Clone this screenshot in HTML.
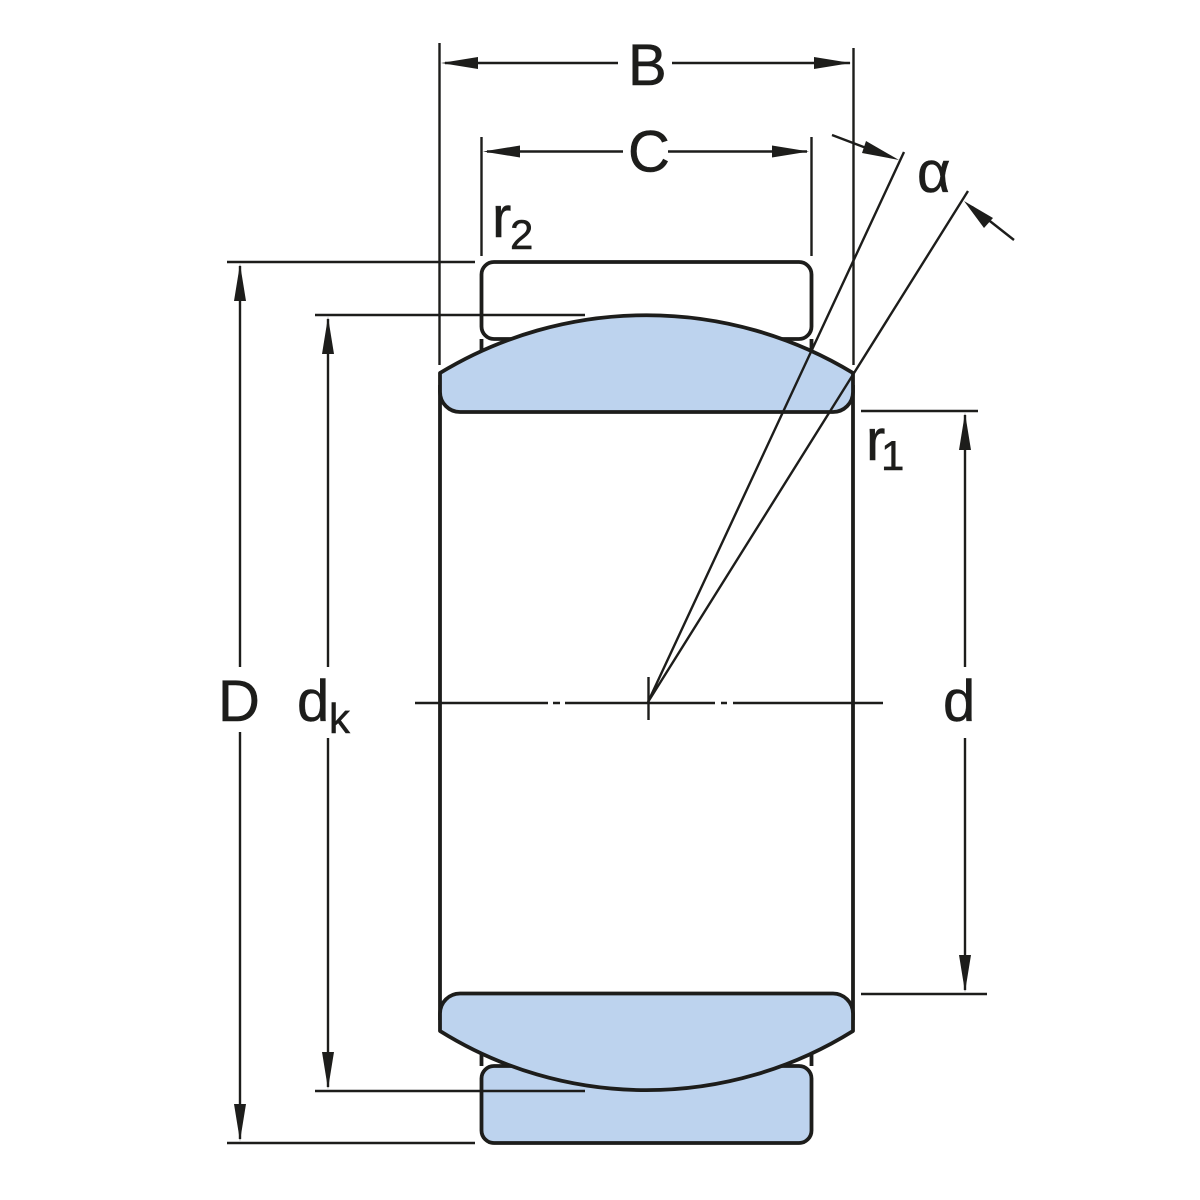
<!DOCTYPE html>
<html><head><meta charset="utf-8"><style>html,body{margin:0;padding:0;background:#fff}svg{display:block}text{font-family:"Liberation Sans",sans-serif;fill:#1d1d1b;stroke:#1d1d1b;stroke-width:.5}</style></head>
<body><svg width="1200" height="1200" viewBox="0 0 1200 1200" xmlns="http://www.w3.org/2000/svg">
<rect width="1200" height="1200" fill="#fff"/>
<g stroke="#1d1d1b" stroke-width="3.800" fill="none" stroke-linejoin="round">
<path d="M481.500 339V350M811.500 339V350M481.500 1050V1066M811.500 1050V1066"/>
<path d="M440 385V1020M853 385V1020"/>
<path d="M494 262H799A12.500 12.500 0 0 1 811.500 274.500V326.500A12.500 12.500 0 0 1 799 339H494A12.500 12.500 0 0 1 481.500 326.500V274.500A12.500 12.500 0 0 1 494 262Z" fill="#fff"/>
<path d="M494 1066H799A12.500 12.500 0 0 1 811.500 1078.500V1130.500A12.500 12.500 0 0 1 799 1143H494A12.500 12.500 0 0 1 481.500 1130.500V1078.500A12.500 12.500 0 0 1 494 1066Z" fill="#bdd3ee"/>
<path d="M440 373A398 398 0 0 1 853 373V392A20 20 0 0 1 833 412H460A20 20 0 0 1 440 392Z" fill="#bdd3ee"/>
<path d="M440 1031A390 390 0 0 0 853 1031V1013.500A20 20 0 0 0 833 993.500H460A20 20 0 0 0 440 1013.500Z" fill="#bdd3ee"/>
</g>
<g fill="none" stroke="#1d1d1b" stroke-width="2.400">
<path d="M439.500 43V365M853.500 48V365M481.500 137V256M811.500 137V256"/>
<path d="M445 63H618M672 63H850M487 151.500H623M668 151.500H807"/>
<path d="M227 262H475M227 1143H475M315 315H585M315 1091H585M861 411H978M861 994H987"/>
<path d="M240 266V667M240 732V1139M328 319V667M328 738V1087M965 415V667M965 738V990"/>
<path d="M415 703H548M553 703H560M565 703H715M721 703H727M733 703H883"/>
<path d="M648.500 677V720"/>
<path d="M648 702L904 152M648 702L968 191M832 135L890 157M972 207L1014 240"/>
</g>
<g fill="#1d1d1b">
<path d="M441 63L478 57V69Z"/>
<path d="M851 63L814 57V69Z"/>
<path d="M483 151.500L520 145.500V157.500Z"/>
<path d="M809 151.500L772 145.500V157.500Z"/>
<path d="M240 264L234 301H246Z"/>
<path d="M240 1141L234 1104H246Z"/>
<path d="M328 317L322 354H334Z"/>
<path d="M328 1089L322 1052H334Z"/>
<path d="M965 413L959 450H971Z"/>
<path d="M965 992L959 955H971Z"/>
<path d="M899 160L866 141L862 153Z"/>
<path d="M964 201L984 228L993 218Z"/>
</g>
<g font-size="58">
<text x="628" y="85">B</text>
<text x="628" y="171.500">C</text>
<text x="218" y="721">D</text>
<text x="297" y="721">d</text>
<text x="943" y="721">d</text>
<text x="917" y="192">α</text>
<text x="492" y="237">r</text>
<text x="866" y="460">r</text>
</g>
<g font-size="42">
<text x="329" y="733">k</text>
<text x="510" y="249">2</text>
<text x="881" y="470">1</text>
</g>
</svg></body></html>
